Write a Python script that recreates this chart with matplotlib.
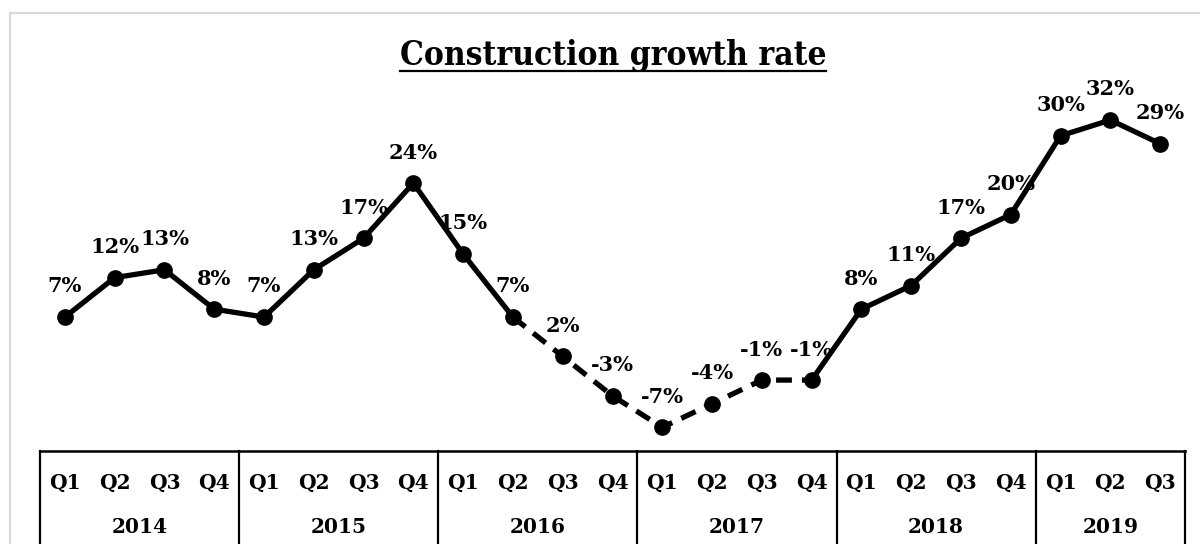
import matplotlib
matplotlib.use("Agg")
import matplotlib.pyplot as plt
from matplotlib.lines import Line2D
import numpy as np

# Data
years = ["2014", "2015", "2016", "2017", "2018", "2019"]
quarters_per_year = [4, 4, 4, 4, 4, 3]
growth = [7, 12, 13, 8,
          7, 13, 17, 24,
          15, 7, 2, -3,
          -7, -4, -1, -1,
          8, 11, 17, 20,
          30, 32, 29]
# slowdown period drawn dashed (2016 Q2 .. 2017 Q4)
dash_start, dash_end = 9, 15

quarter_labels = []
for n in quarters_per_year:
    quarter_labels += ["Q%d" % (k + 1) for k in range(n)]

plt.rcParams["font.family"] = ["DejaVu Serif"]
plt.rcParams["font.weight"] = "bold"

W, H = 1200, 544
fig = plt.figure(figsize=(W / 100, H / 100), dpi=100)
ax = fig.add_axes([40 / W, 1 - 451 / H, (1185 - 40) / W, (451 - 57) / H])

x = np.arange(len(growth))
y = np.array(growth)

lw = 3.8
# solid parts
ax.plot(x[:dash_start + 1], y[:dash_start + 1], color="black", lw=lw,
        solid_capstyle="round", solid_joinstyle="round")
ax.plot(x[dash_end:], y[dash_end:], color="black", lw=lw,
        solid_capstyle="round", solid_joinstyle="round")
# dashed part
ax.plot(x[dash_start:dash_end + 1], y[dash_start:dash_end + 1], color="black",
        lw=lw, dashes=(3, 1.9), dash_capstyle="butt")
# markers
ax.plot(x, y, "o", color="black", ms=11, zorder=3)

for xi, yi in zip(x, y):
    ax.annotate("%d%%" % yi, (xi, yi), xytext=(0, 22), textcoords="offset points",
                ha="center", va="center", fontsize=15, fontweight="bold")

ax.set_xlim(-0.5, len(growth) - 0.5)
ax.set_ylim(-10, 40)
ax.set_xticks([])
ax.set_yticks([])
for s in ["left", "right", "top"]:
    ax.spines[s].set_visible(False)
ax.spines["bottom"].set_linewidth(1.8)

# multi-level category axis
tr = ax.get_xaxis_transform()
bounds = [-0.5]
pos = -0.5
for n in quarters_per_year:
    pos += n
    bounds.append(pos)
for b in bounds:
    ax.plot([b, b], [0, -0.4], color="black", lw=1.6, transform=tr, clip_on=False)
for xi, q in zip(x, quarter_labels):
    ax.text(xi, -0.081, q, transform=tr, ha="center", va="center",
            fontsize=14.5, fontweight="bold")
for i, yr in enumerate(years):
    ax.text((bounds[i] + bounds[i + 1]) / 2, -0.193, yr, transform=tr,
            ha="center", va="center", fontsize=14.5, fontweight="bold")

# title with underline
title = fig.text(613 / W, 1 - 56 / H, "Construction growth rate", ha="center",
                 va="center", fontsize=24, fontweight="bold", fontstretch="condensed")
fig.canvas.draw()
bb = title.get_window_extent()
uy = 1 - 71 / H
fig.add_artist(Line2D([bb.x0 / W, bb.x1 / W], [uy, uy], color="black", lw=1.6))

# chart border (light gray)
fig.add_artist(Line2D([10 / W, 1], [1 - 13 / H, 1 - 13 / H], color="#d9d9d9", lw=1.5))
fig.add_artist(Line2D([10 / W, 10 / W], [0, 1 - 13 / H], color="#d9d9d9", lw=1.5))

fig.savefig("out.png", dpi=100)
